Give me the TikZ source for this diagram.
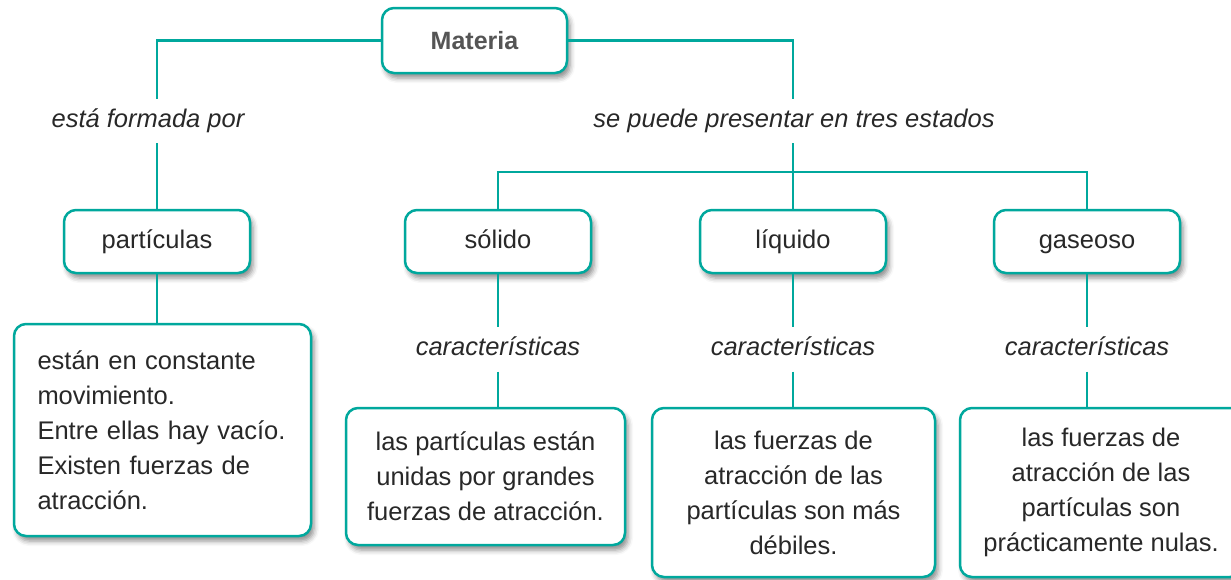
\documentclass[tikz,border=0pt]{standalone}
\usepackage{fontspec}
\setmainfont{Liberation Sans}
\usetikzlibrary{positioning,shadows.blur}
\definecolor{verde}{RGB}{0,168,157}
\definecolor{texto}{RGB}{40,40,40}
\definecolor{titulo}{RGB}{85,85,85}

\begin{document}
\begin{tikzpicture}[x=1pt, y=-1pt,
  every node/.style={text=texto, font=\fontsize{25.5}{35}\selectfont},
  caja/.style={draw=verde, line width=2.5pt, rounded corners=12pt, fill=white,
               blur shadow={shadow xshift=3pt, shadow yshift=-5pt,
                            shadow blur radius=5pt, shadow opacity=45}},
  estado/.style={caja, minimum width=186pt, minimum height=63pt, inner sep=0pt,
                 text height=18pt, text depth=5pt},
  desc/.style={caja, align=center, inner sep=0pt},
  etiq/.style={font=\fontsize{25.5}{35}\selectfont\itshape, minimum height=44pt,
               inner sep=0pt, text height=18pt, text depth=5pt},
  link/.style={draw=verde, line width=2.5pt}]
\useasboundingbox (0,0) rectangle (1231,579);
% raiz
\node[caja, minimum width=185pt, minimum height=65pt, inner sep=0pt,
      text=titulo, font=\fontsize{25}{30}\selectfont\bfseries] (materia) at (474.5,40.5) {Materia};
\node[etiq] (formada) at (148,121) {está formada por};
\node[etiq] (estados) at (794,121) {se puede presentar en tres estados};
% estados
\node[estado] (particulas) at (157,241.5) {partículas};
\node[estado] (solido) at (498,241.5) {sólido};
\node[estado] (liquido) at (793,241.5) {líquido};
\node[estado] (gaseoso) at (1087,241.5) {gaseoso};
\coordinate (barra) at (793,172);
% caracteristicas
\node[etiq, below=53pt of solido] (carsol) {características};
\node[etiq, below=53pt of liquido] (carliq) {características};
\node[etiq, below=53pt of gaseoso] (cargas) {características};
% descripciones
\node[caja, minimum width=297pt, minimum height=212pt, inner ysep=0pt, inner xsep=0pt,
      text width=250pt, align=left] (txtpart) at (162.5,430)
  {están en constante\\movimiento.\\Entre ellas hay vacío.\\Existen fuerzas de\\atracción.};
\node[desc, minimum width=279pt, minimum height=137pt] (txtsol) at (485.5,476.5)
  {las partículas están\\unidas por grandes\\fuerzas de atracción.};
\node[desc, minimum width=283pt, minimum height=169pt] (txtliq) at (793.5,492.5)
  {las fuerzas de\\atracción de las\\partículas son más\\débiles.};
\node[desc, minimum width=282pt, minimum height=169pt] (txtgas) at (1101,492.5)
  {las fuerzas de\\atracción de las\\partículas son\\prácticamente nulas.};
% conectores
\draw[link] (materia.west) -| (formada.north -| particulas.north);
\draw[link] (formada.south -| particulas.north) -- (particulas.north);
\draw[link] (materia.east) -| (estados.north -| liquido.north);
\draw[link] (estados.south -| liquido.north) -- (liquido.north);
\draw[link] (solido.north) |- (barra) -| (gaseoso.north);
\draw[link] (particulas.south) -- (particulas.south |- txtpart.north);
\draw[link] (solido.south) -- (carsol.north);
\draw[link] (carsol.south) -- (carsol.south |- txtsol.north);
\draw[link] (liquido.south) -- (carliq.north);
\draw[link] (carliq.south) -- (carliq.south |- txtliq.north);
\draw[link] (gaseoso.south) -- (cargas.north);
\draw[link] (cargas.south) -- (cargas.south |- txtgas.north);
\end{tikzpicture}
\end{document}
